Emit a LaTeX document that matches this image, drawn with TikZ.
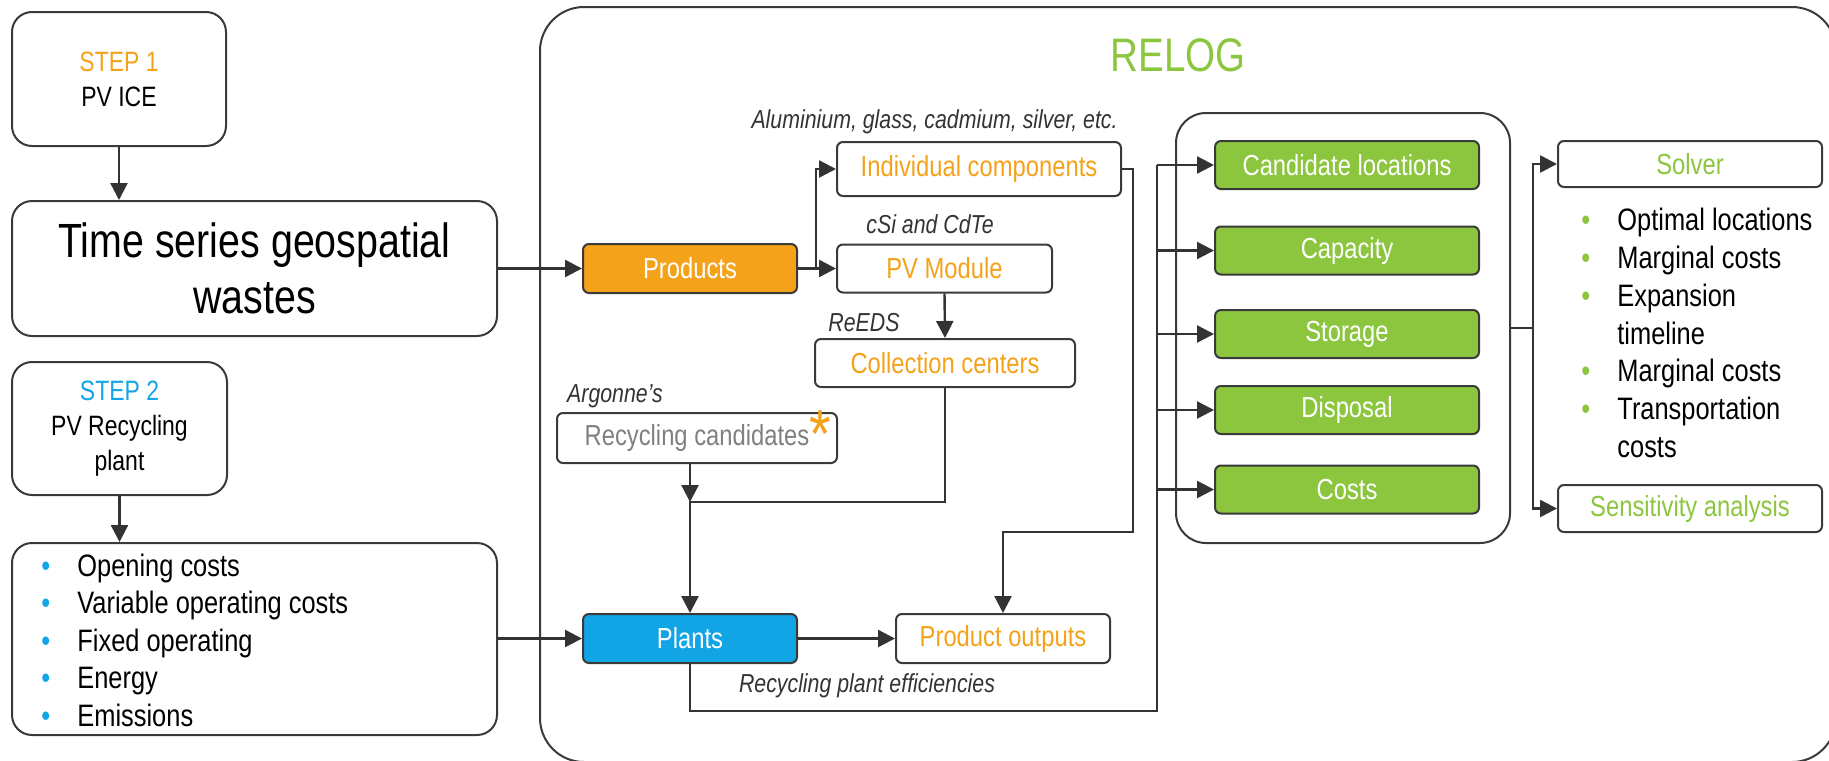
\documentclass[tikz,border=0pt]{standalone}
\usepackage{fontspec}
\setmainfont{Liberation Sans}[FakeStretch=0.82]
\usetikzlibrary{arrows.meta,positioning}
\definecolor{boxline}{HTML}{3A3A3A}
\definecolor{connline}{HTML}{333333}
\definecolor{notegray}{HTML}{333333}
\definecolor{relorange}{HTML}{F5A21B}
\definecolor{relblue}{HTML}{12A5E6}
\definecolor{relgreen}{HTML}{8CC63F}
\definecolor{relgray}{HTML}{808080}
\newcommand{\relitem}[2]{\makebox[18pt][l]{\textcolor{#1}{\textbullet}}#2}
\tikzset{
  box/.style={
    draw=boxline,
    line width=1pt,
    rounded corners=3pt,
    fill=white,
    inner sep=0pt,
    align=center,
    font=\fontsize{14.5}{17.5}\selectfont
  },
  bigbox/.style={box, rounded corners=10pt, font=\fontsize{14}{17.5}\selectfont},
  smallbox/.style={box, minimum width=107pt, minimum height=24.5pt},
  greenbox/.style={box, fill=relgreen, text=white, minimum width=132pt, minimum height=24pt},
  outbox/.style={box, text=relgreen, minimum width=132pt, minimum height=23pt},
  frame/.style={draw=boxline, line width=1pt},
  conn/.style={draw=connline, line width=1.2pt, -{Triangle[length=8.5pt,width=8.5pt]}},
  wire/.style={draw=connline, line width=1.2pt},
  note/.style={font=\fontsize{13}{15}\selectfont\itshape, text=notegray, inner sep=0pt},
  itemlist/.style={anchor=west, align=left, inner sep=0pt, font=\fontsize{15.5}{18.9}\selectfont},
}

\begin{document}
\begin{tikzpicture}[x=0.5pt, y=-0.5pt]
  \useasboundingbox (0,0) rectangle (1829,760);

  % left column
  \node[bigbox, minimum width=107pt, minimum height=67pt] (step1) at (119,79)
    {\textcolor{relorange}{STEP 1}\\PV ICE};
  \node[bigbox, minimum width=242.5pt, minimum height=67.5pt, font=\fontsize{24}{28}\selectfont] (waste) at (254.5,268.5)
    {Time series geospatial\\wastes};
  \node[bigbox, minimum width=107.5pt, minimum height=66.5pt] (step2) at (119.5,428.5)
    {\textcolor{relblue}{STEP 2}\\PV Recycling\\plant};
  \node[bigbox, minimum width=242.5pt, minimum height=96pt] (params) at (254.5,639) {};
  \node[itemlist, font=\fontsize{15.5}{18.75}\selectfont] (paramlist) at (41,640)
    {\relitem{relblue}{Opening costs}\\
     \relitem{relblue}{Variable operating costs}\\
     \relitem{relblue}{Fixed operating}\\
     \relitem{relblue}{Energy}\\
     \relitem{relblue}{Emissions}};

  % RELOG frame
  \draw[frame, rounded corners=22pt] (540,7) rectangle (1836,762);
  \node[font=\fontsize{23.5}{26}\selectfont, text=relgreen, inner sep=0pt] (relogtitle) at (1178,55) {RELOG};

  % products and plants
  \node[smallbox, fill=relorange, text=white] (products) at (690,268.5) {Products};
  \node[box, text=relorange, minimum width=142pt, minimum height=27pt] (ic) at (979,169) {Individual components};
  \node[box, text=relorange, minimum width=107.5pt, minimum height=24pt] (pvm) at (944.5,268.5) {PV Module};
  \node[box, text=relorange, minimum width=130pt, minimum height=24pt] (cc) at (945,363) {Collection centers};
  \node[box, text=relgray, minimum width=140pt, minimum height=25pt] (rc) at (697,438)
    {Recycling candidates\rlap{\smash{\raisebox{-6pt}{\textcolor{relorange}{\fontsize{34}{34}\selectfont *}}}}};
  \node[smallbox, fill=relblue, text=white] (plants) at (690,638.5) {Plants};
  \node[smallbox, text=relorange] (po) at (1003,638.5) {Product outputs};

  \node[note, anchor=east] (alulbl) at (1118,122) {Aluminium, glass, cadmium, silver, etc.};
  \node[note] (cdlbl) at (930,224) {cSi and CdTe};
  \node[note] (reedslbl) at (864,323) {ReEDS};
  \node[note] (argonnelbl) at (615,396) {Argonne’s};
  \node[note] (efflbl) at (867,686) {Recycling plant efficiencies};

  % model inputs
  \node[box, rounded corners=15pt, minimum width=167pt, minimum height=215pt] (inputs) at (1343,328) {};
  \foreach \n/\t/\y in {cand/Candidate locations/165, cap/Capacity/250.5, stor/Storage/334, disp/Disposal/410, cost/Costs/489.5}
    \node[greenbox] (\n) at (1347,\y) {\t};

  % outputs
  \node[outbox] (solver) at (1690,164) {Solver};
  \node[outbox, minimum height=23.5pt] (sens) at (1690,508.5) {Sensitivity analysis};
  \node[itemlist] (results) at (1581,333)
    {\relitem{relgreen}{Optimal locations}\\
     \relitem{relgreen}{Marginal costs}\\
     \relitem{relgreen}{Expansion}\\
     \hspace*{18pt}timeline\\
     \relitem{relgreen}{Marginal costs}\\
     \relitem{relgreen}{Transportation}\\
     \hspace*{18pt}costs};

  % connectors
  \coordinate (fork) at (816,268.5);
  \coordinate (merge) at (690,502);
  \coordinate (icdrop) at (1133,532);
  \coordinate (bus) at (1157,711);
  \coordinate (outbus) at (1533,328);

  \draw[conn] (step1.south) -- (step1.south |- waste.north);
  \draw[conn] (step2.south) -- (step2.south |- params.north);
  \draw[conn] (waste.east) -- (products.west);
  \draw[conn] (params.east |- plants.west) -- (plants.west);
  \draw[conn] (products.east) -- (pvm.west);
  \draw[conn] (fork) |- (ic.west);
  \draw[conn] (pvm.south) -- (cc.north);
  \draw[conn] (rc.south -| merge) -- (merge);
  \draw[conn] (cc.south) |- (merge) -- (plants.north);
  \draw[conn] (ic.east) -| (icdrop) -| (po.north);
  \draw[conn] (plants.east) -- (po.west);
  \draw[wire] (plants.south) |- (bus) -- (bus |- cand.west);
  \foreach \n in {cand,cap,stor,disp,cost}
    \draw[conn] (bus |- \n.west) -- (\n.west);
  \draw[wire] (inputs.east) -- (outbus);
  \draw[conn] (outbus) |- (solver.west);
  \draw[conn] (outbus) |- (sens.west);
\end{tikzpicture}
\end{document}
